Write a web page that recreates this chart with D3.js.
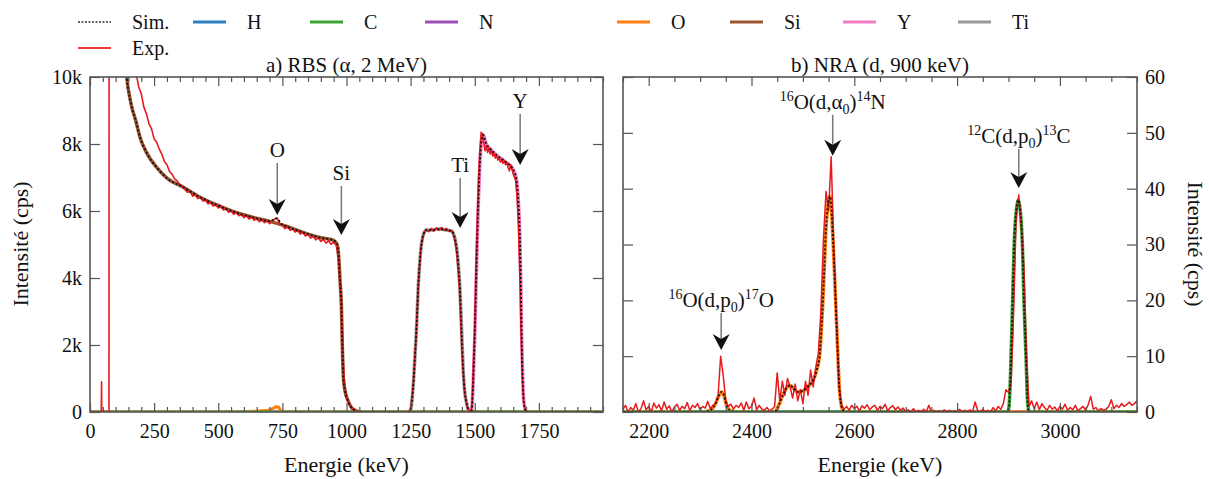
<!DOCTYPE html>
<html><head><meta charset="utf-8">
<script src="https://cdn.jsdelivr.net/npm/d3@7"></script>
<style>
body{margin:0;background:#fff;}
svg text{font-family:"Liberation Serif","DejaVu Serif","Noto Serif","Times New Roman",Times,serif;fill:#111;}
</style></head><body>
<svg id="chart" width="1209" height="479"></svg>
<script>
// ---------------- DATA ----------------
const legendNames = ["Sim.","H","C","N","O","Si","Y","Ti","Exp."];
const elemColors = {H:"#2f7fc1",C:"#3aa535",N:"#9a4fb5",O:"#ff7f0e",Si:"#9c5530",Y:"#f27cc4",Ti:"#9a9a9a"};
const simColor = "#111", expColor = "#e8191f";

// RBS panel (a)
const rbsXDomain = [0, 2000];
const rbsYDomain = [0, 10000];
const rbsXTicks = [0,250,500,750,1000,1250,1500,1750];
const rbsYTicks = [0,2000,4000,6000,8000,10000];
const rbsYTickLabels = ["0","2k","4k","6k","8k","10k"];

const rbsSimE = [110,125,143,160,180,195,220,260,300,362, 420,494,560,640,700,715,725,735,745,760, 817,900,946,960,966,970,975,980,984,988, 995,1005,1018,1031,1050,1070,
  1247,1255,1262,1268,1273,1280,1286,1292,1300,1312, 1330,1360,1390,1410,1416,1422,1429,1436,1442,1449, 1455,1461,1468,1474,1481,
  1487,1493,1500,1507,1514,1520,1527,1533,1545,1558, 1572,1590,1611,1628,1644,1655,1663,1670,1676,1680, 1683,1687,1692,1702, 2000];
const rbsSimV = [14000,12000,10000,9200,8650,8200,7750,7300,6980,6716, 6450,6180,5980,5800,5700,5740,5780,5730,5620,5560, 5400,5200,5134,5050,4925,4600,3900,3200,1900,1000, 600,358,150,60,10,0,
  0,300,1000,1800,2500,3800,4500,5000,5300,5430, 5430,5460,5430,5400,5340,5200,4925,4400,3731,2400, 1254,600,269,80,0,
  0,700,2239,4300,6239,7400,8119,8269,8000,7880, 7761,7640,7522,7420,7313,7150,6925,6300,5224,3700, 2239,1000,269,0, 0];

const rbsSiE = [110,125,143,160,180,195,220,260,300,362, 420,494,560,640,700,760,817,900,946,960, 966,970,975,980,984,988,995,1005,1018,1031, 1050,1070,2000];
const rbsSiV = [14000,12000,10000,9200,8650,8200,7750,7300,6980,6716, 6450,6180,5980,5800,5690,5560,5400,5200,5134,5050, 4925,4600,3900,3200,1900,1000,600,358,150,60, 10,0,0];

const rbsOE = [0,580,620,660,700,715,725,735,742,750,2000];
const rbsOV = [0,0,15,30,60,110,160,150,60,0,0];

const rbsTiE = [0,1247,1255,1262,1268,1273,1280,1286,1292,1300,1312,1330,1360,1390,1410,1416,1422,1429,1436,1442,1449,1455,1461,1468,1474,1481,2000];
const rbsTiV = [0,0,300,1000,1800,2500,3800,4500,5000,5300,5430,5430,5460,5430,5400,5340,5200,4925,4400,3731,2400,1254,600,269,80,0,0];

const rbsYE = [0,1487,1493,1500,1507,1514,1520,1527,1533,1545,1558,1572,1590,1611,1628,1644,1655,1663,1670,1676,1680,1683,1687,1692,1702,2000];
const rbsYV = [0,0,700,2239,4300,6239,7400,8119,8269,8000,7880,7761,7640,7522,7420,7313,7150,6925,6300,5224,3700,2239,1000,269,0,0];

const rbsZeroE = [0, 2000];
const rbsZeroV = [0, 0];

// Experimental RBS spectrum
const rbsExpLowE = [0,44,45,46,74,75,150];
const rbsExpLowV = [0,0,900,0,0,30000,14000];
const rbsExpDecayStart = 180, rbsExpDecayStep = 10;
const rbsExpDecayV = [
  10100,9700,9500,9100,8900,8600,8450,8150,8050,7850,
  7700,7480,7380,7180,7100,6960,6900,6780,6740,6650,
  6560,6600,6440,6500,6370,6420,6300,6340,6210,6270,
  6150,6200,6090,6160,6030,6080,5960,6010,5900,5970,
  5860,5900,5800,5870,5760,5830,5720,5790,5680,5740,
  5650,5720,5620,5700,5760,5790,5600,5580,5470,5540,
  5420,5470,5370,5430,5310,5370,5250,5310,5190,5250,
  5140,5200,5090,5150,5040,5110,5010,5060,4980,4500,
  3200,1000,420,220,110,40,10,0];
const rbsExpTiStart = 1240, rbsExpTiStep = 10;
const rbsExpTiV = [0,100,800,2100,3800,4900,5300,5450,5380,5480,5400,5500,5420,5510,5430,5480,5390,5420,5220,4750,3750,1800,600,180,0];
const rbsExpYStart = 1485, rbsExpYStep = 5;
const rbsExpYV = [0,300,1500,2600,4500,5800,7000,7800,8350,8300,
  8050,7800,7950,7750,7880,7700,7800,7640,7720,7580,
  7660,7520,7600,7460,7550,7420,7500,7380,7450,7300,
  7200,7380,7250,7100,7000,6900,6400,5600,4300,2600,
  1100,350,80,0];

// RBS annotations
const rbsAnnLabels = ["O","Si","Ti","Y"];
const rbsAnnE = [730, 980, 1443, 1677];
const rbsAnnTip = [5880, 5284, 5490, 7373];
const rbsAnnText = [7612, 6925, 7164, 9075];

// NRA panel (b)
const nraXDomain = [2150, 3150];
const nraYDomain = [0, 60];
const nraXTicks = [2200,2400,2600,2800,3000];
const nraYTicks = [0,10,20,30,40,50,60];

const nraOE = [2150,2300,2320,2330,2337,2342,2347,2352,2360,2370, 2445,2452,2460,2468,2475,2482,2490,2500,2510,2520, 2527,2533,2539,2546,2553,2559,2566,2572,2578,2585, 3150];
const nraOV = [0,0,0.3,1.5,3.0,3.6,2.8,1.0,0.2,0, 0,1.0,2.8,4.3,4.8,4.2,3.6,3.8,4.6,5.7, 7.5,10.5,20,34.4,38.6,30,14.7,3,0.3,0, 0];
const nraCE = [2150,2898,2901,2905,2908,2911,2915,2919,2923,2927,2930,2934,2937,2940,3150];
const nraCV = [0,0,1,10,20,30,36,38,36,30,20,10,2,0,0];
const nraZeroE = [2150, 3150];
const nraZeroV = [0, 0];

const nraExpStart = 2150, nraExpStep = 5;
const nraExpV = [
  0.5,1.2,0,0.8,0.3,1.5,0,0.6,2.0,0.4,
  1.0,0,1.6,0.7,1.3,0.2,1.8,0.5,1.1,0,
  0.9,1.4,0.3,1.0,0.6,1.7,0.2,1.2,0.8,1.5,
  0.4,1.0,0.7,1.9,0.6,1.2,1.5,3.0,10.0,6.5,
  2.0,1.0,1.4,0.5,1.2,0.8,1.6,0.3,1.8,0.6,
  1.0,2.5,0.4,1.2,0.5,0.3,0.8,0.2,0.5,1.0,
  7.0,2.0,5.5,3.0,6.0,4.5,2.5,5.0,2.0,4.0,
  1.5,5.5,3.0,7.5,4.5,8.0,10.5,18,31,39.5,
  36,45.7,30,17,5,1.2,0.5,1.0,0.3,1.2,
  0.6,1.0,0.2,1.1,0.7,1.3,0.4,0.9,1.2,0.3,
  1.0,0.6,1.4,0.2,0.8,1.1,0.4,0.9,0.3,0.7,
  0,0.4,0,0.6,0,0.3,0,0.5,0,1.2,
  0,0.3,0,0.2,0,0.4,0,0.3,0,0.2,
  0,0.5,0,0.3,0,0.4,0,1.8,0.3,0,
  0.5,0,0.3,0,0.8,0.2,1.0,0.5,1.5,4.0,
  3.5,5.0,18,35,38.9,33,26,10,1.0,2.0,
  0.6,1.8,0.4,1.5,0.8,0.3,1.2,0.5,0.9,0.2,
  1.0,0.5,1.4,0.3,0.8,0.4,1.2,0.2,0.6,1.0,
  0.3,1.3,2.8,0.5,0.8,0.2,0.6,0.3,0.5,1.0,
  2.2,0.6,1.2,0.8,1.5,1.0,1.3,1.8,1.2,1.5,
  2.0];

// NRA annotations
const nraAnnLabels = [
  [["16","sup"],["O(d,p"],["0","sub"],[")"],["17","sup"],["O"]],
  [["16","sup"],["O(d,α"],["0","sub"],[")"],["14","sup"],["N"]],
  [["12","sup"],["C(d,p"],["0","sub"],[")"],["13","sup"],["C"]]
];
const nraAnnE = [2341, 2558, 2920];
const nraAnnTip = [11.1, 45.9, 40.1];
const nraAnnText = [18.8, 54.3, 48.2];

const titles = ["a) RBS (α, 2 MeV)", "b) NRA (d, 900 keV)"];
const xTitle = "Energie (keV)";
const yTitle = "Intensité (cps)";

// ---------------- DRAW ----------------
const FONT = '"Liberation Serif","DejaVu Serif","Noto Serif","Times New Roman",Times,serif';
const svg = d3.select("#chart").attr("font-family", FONT);
const pts = (E,V) => E.map((e,i)=>({e, v:V[i]}));
const grid = (start, step, V) => V.map((v,i)=>({e:start+i*step, v}));

const rbs = {x: d3.scaleLinear().domain(rbsXDomain).range([90,603]),
             y: d3.scaleLinear().domain(rbsYDomain).range([412,77]), id:"clipA"};
const nra = {x: d3.scaleLinear().domain(nraXDomain).range([623,1137]),
             y: d3.scaleLinear().domain(nraYDomain).range([412,77]), id:"clipB"};

const defs = svg.append("defs");
[rbs, nra].forEach(p=>{
  defs.append("clipPath").attr("id", p.id).append("rect")
    .attr("x", p.x.range()[0]).attr("y", p.y.range()[1])
    .attr("width", p.x.range()[1]-p.x.range()[0]).attr("height", p.y.range()[0]-p.y.range()[1]);
});

function drawLine(g, p, data, color, width, dash, curve){
  g.append("path").datum(data)
    .attr("d", d3.line().x(d=>p.x(d.e)).y(d=>p.y(d.v)).curve(curve || d3.curveMonotoneX))
    .attr("fill","none").attr("stroke",color).attr("stroke-width",width)
    .attr("stroke-dasharray", dash || null).attr("stroke-linejoin","round");
}

// ---- panel a
const gA = svg.append("g").attr("clip-path","url(#clipA)");
drawLine(gA, rbs, pts(rbsZeroE,rbsZeroV), elemColors.H, 3);
drawLine(gA, rbs, pts(rbsZeroE,rbsZeroV), elemColors.N, 3);
drawLine(gA, rbs, pts(rbsSiE,rbsSiV), elemColors.Si, 3.5);
drawLine(gA, rbs, pts(rbsTiE,rbsTiV), elemColors.Ti, 3.5);
drawLine(gA, rbs, pts(rbsYE,rbsYV), elemColors.Y, 3.5);
drawLine(gA, rbs, pts(rbsOE,rbsOV), elemColors.O, 3);
drawLine(gA, rbs, pts(rbsZeroE,rbsZeroV), elemColors.C, 3);
const expA1 = pts(rbsExpLowE, rbsExpLowV).concat(grid(rbsExpDecayStart, rbsExpDecayStep, rbsExpDecayV));
drawLine(gA, rbs, expA1, expColor, 1.6, null, d3.curveLinear);
drawLine(gA, rbs, grid(rbsExpTiStart, rbsExpTiStep, rbsExpTiV), expColor, 1.6, null, d3.curveLinear);
drawLine(gA, rbs, grid(rbsExpYStart, rbsExpYStep, rbsExpYV), expColor, 1.6, null, d3.curveLinear);
drawLine(gA, rbs, pts(rbsSimE,rbsSimV), simColor, 1.8, "2,2");

// ---- panel b
const gB = svg.append("g").attr("clip-path","url(#clipB)");
drawLine(gB, nra, pts(nraZeroE,nraZeroV), elemColors.H, 3);
drawLine(gB, nra, pts(nraZeroE,nraZeroV), elemColors.N, 3);
drawLine(gB, nra, pts(nraOE,nraOV), elemColors.O, 3.5);
drawLine(gB, nra, pts(nraCE,nraCV), elemColors.C, 3.5);
drawLine(gB, nra, grid(nraExpStart, nraExpStep, nraExpV), expColor, 1.5, null, d3.curveLinear);
const nraSim = pts(nraOE,nraOV).filter(d=>d.e<2700).concat(pts(nraCE,nraCV).filter(d=>d.e>2700));
drawLine(gB, nra, nraSim, simColor, 1.8, "2,2");

// ---- axes
function styleAxis(sel){
  sel.attr("font-family", FONT).attr("font-size", 20);
  sel.select(".domain").remove();
  sel.selectAll(".tick line").attr("stroke","#555").attr("stroke-width",1.2);
  sel.selectAll("text").attr("fill","#111");
}
function minorTicks(dom, step){ return d3.range(Math.ceil(dom[0]/step)*step, dom[1]+0.001, step); }

function drawAxes(p, xt, yt, yLabels, yRight){
  const [x0,x1] = p.x.range(), [y1,y0] = p.y.range();
  const xm = minorTicks(p.x.domain(), 50).filter(v=>!xt.includes(v));
  svg.append("g").attr("transform",`translate(0,${y1})`).call(d3.axisBottom(p.x).tickValues(xm).tickSize(-5).tickFormat("")).call(styleAxis);
  svg.append("g").attr("transform",`translate(0,${y1})`).call(d3.axisBottom(p.x).tickValues(xt).tickSize(-9).tickPadding(12).tickFormat(d3.format("d"))).call(styleAxis);
  svg.append("g").attr("transform",`translate(0,${y0})`).call(d3.axisTop(p.x).tickValues(xm).tickSize(-5).tickFormat("")).call(styleAxis);
  svg.append("g").attr("transform",`translate(0,${y0})`).call(d3.axisTop(p.x).tickValues(xt).tickSize(-9).tickFormat("")).call(styleAxis);
  const fmt = yLabels ? (d,i)=>yLabels[i] : d3.format("d");
  if(!yRight){
    svg.append("g").attr("transform",`translate(${x0},0)`).call(d3.axisLeft(p.y).tickValues(yt).tickSize(-10).tickPadding(8).tickFormat(fmt)).call(styleAxis);
    svg.append("g").attr("transform",`translate(${x1},0)`).call(d3.axisRight(p.y).tickValues(yt).tickSize(-10).tickFormat("")).call(styleAxis);
  } else {
    svg.append("g").attr("transform",`translate(${x1},0)`).call(d3.axisRight(p.y).tickValues(yt).tickSize(-10).tickPadding(8).tickFormat(fmt)).call(styleAxis);
    svg.append("g").attr("transform",`translate(${x0},0)`).call(d3.axisLeft(p.y).tickValues(yt).tickSize(-10).tickFormat("")).call(styleAxis);
  }
  svg.append("rect").attr("x",x0).attr("y",y0).attr("width",x1-x0).attr("height",y1-y0)
    .attr("fill","none").attr("stroke","#555").attr("stroke-width",1.6);
}
drawAxes(rbs, rbsXTicks, rbsYTicks, rbsYTickLabels, false);
drawAxes(nra, nraXTicks, nraYTicks, null, true);

// ---- titles
[[rbs,titles[0]],[nra,titles[1]]].forEach(([p,t])=>{
  const cx = (p.x.range()[0]+p.x.range()[1])/2;
  svg.append("text").attr("x",cx).attr("y",72).attr("text-anchor","middle").attr("font-size",21).text(t);
  svg.append("text").attr("x",cx).attr("y",472).attr("text-anchor","middle").attr("font-size",22).text(xTitle);
});
svg.append("text").attr("transform","translate(28,244) rotate(-90)").attr("text-anchor","middle").attr("font-size",22).text(yTitle);
svg.append("text").attr("transform","translate(1188,244) rotate(90)").attr("text-anchor","middle").attr("font-size",22).text(yTitle);

// ---- annotations
function arrow(p, e, tipV, textV, parts){
  const tx = p.x(e), ty = p.y(tipV), by = p.y(textV);
  const t = svg.append("text").attr("x",tx).attr("y",by).attr("text-anchor","middle").attr("font-size",21);
  let cur = 0;
  parts.forEach(pt=>{
    const target = pt[1]==="sup" ? -8 : pt[1]==="sub" ? 5 : 0;
    t.append("tspan").attr("dy", target-cur).attr("font-size", pt[1] ? 14 : 21).text(pt[0]);
    cur = target;
  });
  svg.append("line").attr("x1",tx).attr("x2",tx).attr("y1",by+6).attr("y2",ty-11)
    .attr("stroke","#777").attr("stroke-width",1.5);
  svg.append("path").attr("d",`M${tx},${ty} L${tx-8.5},${ty-16} L${tx},${ty-11} L${tx+8.5},${ty-16} Z`).attr("fill","#111");
}
rbsAnnLabels.forEach((l,i)=>arrow(rbs, rbsAnnE[i], rbsAnnTip[i], rbsAnnText[i], [[l]]));
nraAnnLabels.forEach((l,i)=>arrow(nra, nraAnnE[i], nraAnnTip[i], nraAnnText[i], l));

// ---- legend
const legCols = [78,193,310,425,617,730,843,958];
const lg = svg.append("g");
legendNames.forEach((name,i)=>{
  const row = i<8 ? 0 : 1;
  const x = i<8 ? legCols[i] : legCols[0];
  const y = row===0 ? 22 : 48;
  let color, dash=null, w=3;
  if(name==="Sim."){ color="#333"; dash="2,1.5"; w=1.5; }
  else if(name==="Exp."){ color="#ee3a3a"; w=2; }
  else color = elemColors[name];
  lg.append("line").attr("x1",x).attr("x2",x+33).attr("y1",y).attr("y2",y)
    .attr("stroke",color).attr("stroke-width",w).attr("stroke-dasharray",dash);
  lg.append("text").attr("x",x+54).attr("y",y+7).attr("font-size",20).text(name);
});
</script>
</body></html>
